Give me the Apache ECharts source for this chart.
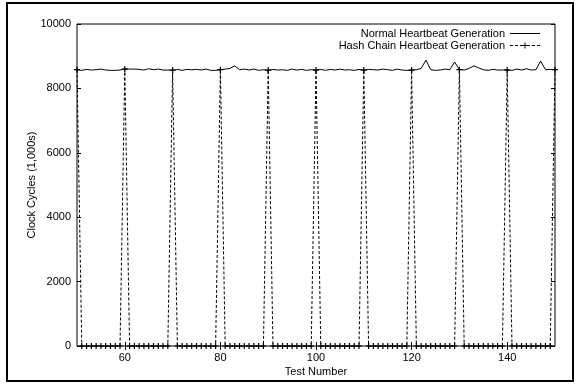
<!DOCTYPE html>
<html>
<head>
<meta charset="utf-8">
<script src="https://cdn.jsdelivr.net/npm/echarts@6/dist/echarts.min.js"></script>
<style>
  html, body { margin: 0; padding: 0; background: #fff; }
  #chart { width: 577px; height: 385px; }
</style>
</head>
<body>
<div id="chart"></div>
<script>
// test numbers 50..150
var testNumbers = [];
for (var n = 50; n <= 150; n++) testNumbers.push(n);

// normal heartbeat generation (1,000s of cycles)
var normalCycles = [
  8580, 8560, 8590, 8570, 8580, 8600, 8570, 8560, 8560, 8570,
  8610, 8600, 8600, 8590, 8570, 8610, 8580, 8600, 8570, 8570,
  8560, 8590, 8560, 8590, 8580, 8590, 8570, 8600, 8560, 8560,
  8580, 8600, 8620, 8700, 8580, 8600, 8570, 8600, 8560, 8580,
  8560, 8590, 8570, 8580, 8560, 8600, 8570, 8590, 8560, 8580,
  8570, 8590, 8560, 8590, 8570, 8600, 8570, 8580, 8560, 8590,
  8570, 8590, 8580, 8570, 8600, 8580, 8560, 8600, 8570, 8560,
  8570, 8580, 8620, 8880, 8580, 8560, 8570, 8600, 8580, 8820,
  8590, 8570, 8620, 8700, 8640, 8580, 8560, 8590, 8570, 8570,
  8580, 8560, 8600, 8570, 8610, 8570, 8580, 8850, 8580, 8590,
  8580
];

// hash chain heartbeat generation: expensive every 10th test, ~0 otherwise
var hashCycles = [
  8580, 0, 0, 0, 0, 0, 0, 0, 0, 0,
  8600, 0, 0, 0, 0, 0, 0, 0, 0, 0,
  8570, 0, 0, 0, 0, 0, 0, 0, 0, 0,
  8580, 0, 0, 0, 0, 0, 0, 0, 0, 0,
  8570, 0, 0, 0, 0, 0, 0, 0, 0, 0,
  8570, 0, 0, 0, 0, 0, 0, 0, 0, 0,
  8570, 0, 0, 0, 0, 0, 0, 0, 0, 0,
  8570, 0, 0, 0, 0, 0, 0, 0, 0, 0,
  8580, 0, 0, 0, 0, 0, 0, 0, 0, 0,
  8570, 0, 0, 0, 0, 0, 0, 0, 0, 0,
  8580
];

var xTicks = [60, 80, 100, 120, 140];

function pairs(xs, ys) {
  return xs.map(function (x, i) { return [x, ys[i]]; });
}

var chart = echarts.init(document.getElementById('chart'));
var font = 'Liberation Sans, Arial, Helvetica, sans-serif';
var plus = 'path://M0,4L10,4L10,6L0,6Z M4,0L6,0L6,10L4,10Z';
// legend samples: solid line, and dashed line with a plus in the middle
var solidIcon = 'path://M0,3L30,3L30,4L0,4Z';
var dashIcon = 'path://M0,3L3,3L3,4L0,4Z M5,3L8,3L8,4L5,4Z M10,3L13,3L13,4L10,4Z' +
  ' M17,3L20,3L20,4L17,4Z M22,3L25,3L25,4L22,4Z M27,3L30,3L30,4L27,4Z' +
  ' M12.5,3L17.5,3L17.5,4L12.5,4Z M14.5,0.5L15.5,0.5L15.5,6.5L14.5,6.5Z' +
  ' M0,0L0.01,0L0.01,7L0,7Z M29.99,0L30,0L30,7L29.99,7Z';

var option = {
  animation: false,
  backgroundColor: '#fff',
  textStyle: { fontFamily: font, color: '#000' },
  graphic: [{
    type: 'rect',
    shape: { x: 7, y: 3, width: 566, height: 378 },
    style: { fill: 'none', stroke: '#000', lineWidth: 2 },
    silent: true
  }],
  grid: {
    left: 77, right: 22, top: 24, bottom: 39,
    show: true, borderColor: '#000', borderWidth: 1
  },
  legend: {
    orient: 'vertical',
    right: 32, top: 23,
    align: 'right',
    itemWidth: 30, itemHeight: 7, itemGap: 1,
    textStyle: { fontSize: 11, fontFamily: font, color: '#000', lineHeight: 10 },
    data: [
      { name: 'Normal Heartbeat Generation', icon: solidIcon },
      { name: 'Hash Chain Heartbeat Generation', icon: dashIcon }
    ]
  },
  xAxis: [{
    type: 'value', min: 50, max: 150, interval: 10,
    name: 'Test Number', nameLocation: 'middle', nameGap: 20,
    nameMoveOverlap: false,
    nameTextStyle: { fontSize: 11, color: '#000' },
    axisLine: { show: false },
    axisTick: { inside: true, length: 4, lineStyle: { color: '#000' },
      customValues: xTicks },
    axisLabel: { fontSize: 11, color: '#000', margin: 6, customValues: xTicks },
    splitLine: { show: false }
  }, {
    type: 'value', min: 50, max: 150, position: 'top',
    axisLine: { show: false },
    axisTick: { inside: true, length: 4, lineStyle: { color: '#000' },
      customValues: xTicks },
    axisLabel: { show: false },
    splitLine: { show: false }
  }],
  yAxis: [{
    type: 'value', min: 0, max: 10000, interval: 2000,
    name: 'Clock Cycles (1,000s)', nameLocation: 'middle', nameGap: 40,
    nameMoveOverlap: false,
    nameTextStyle: { fontSize: 11, color: '#000' },
    axisLine: { show: false },
    axisTick: { inside: true, length: 4, lineStyle: { color: '#000' } },
    axisLabel: { fontSize: 11, color: '#000', margin: 6,
      formatter: function (v) { return String(v); } },
    splitLine: { show: false }
  }, {
    type: 'value', min: 0, max: 10000, interval: 2000, position: 'right',
    axisLine: { show: false },
    axisTick: { inside: true, length: 4, lineStyle: { color: '#000' } },
    axisLabel: { show: false },
    splitLine: { show: false }
  }],
  series: [{
    name: 'Normal Heartbeat Generation',
    type: 'line',
    data: pairs(testNumbers, normalCycles),
    symbol: 'none',
    lineStyle: { color: '#000', width: 1 },
    itemStyle: { color: '#000' }
  }, {
    name: 'Hash Chain Heartbeat Generation',
    type: 'line',
    data: pairs(testNumbers, hashCycles),
    symbol: plus,
    symbolSize: 6,
    showSymbol: true,
    showAllSymbol: true,
    clip: false,
    lineStyle: { color: '#000', width: 1, type: [3, 2] },
    itemStyle: { color: '#000' }
  }]
};

chart.setOption(option);
</script>
</body>
</html>
